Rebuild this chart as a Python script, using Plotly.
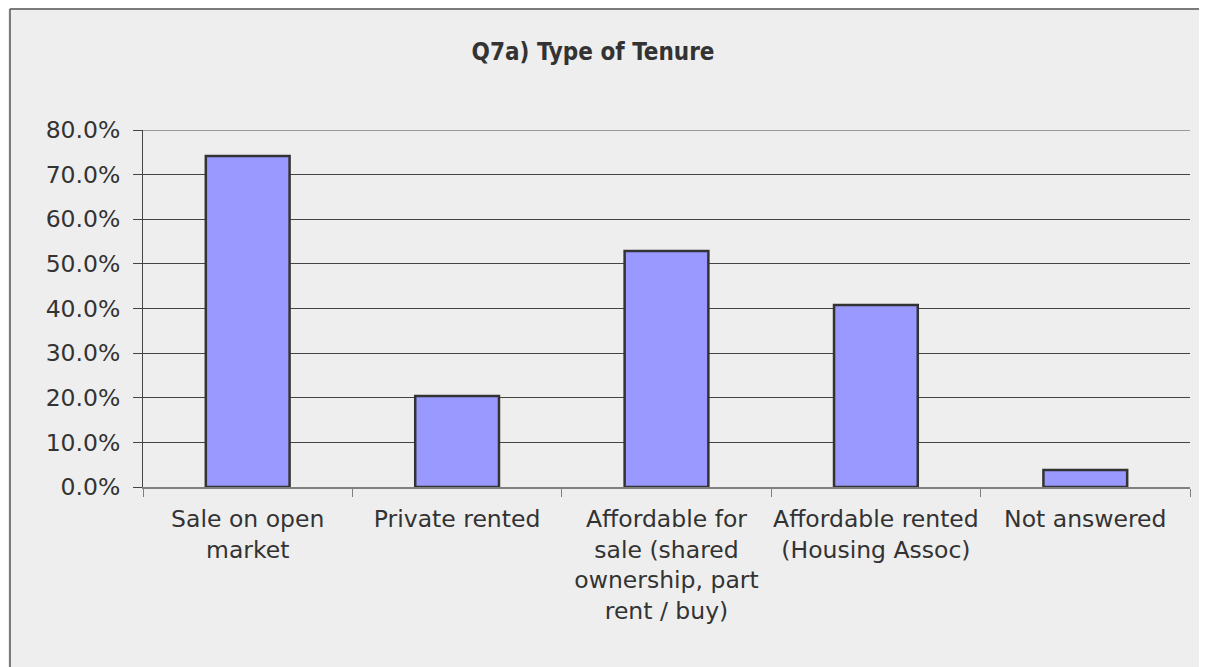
import plotly.graph_objects as go

categories = ["Sale on open<br>market", "Private rented",
              "Affordable for<br>sale (shared<br>ownership, part<br>rent / buy)",
              "Affordable rented<br>(Housing Assoc)", "Not answered"]
values = [0.742, 0.204, 0.529, 0.408, 0.038]
tick_vals = [0, 0.1, 0.2, 0.3, 0.4, 0.5, 0.6, 0.7, 0.8]
title_text = "Q7a) Type of Tenure"

FONT = "DejaVu Sans, Verdana, sans-serif"
TFONT = "DejaVu Sans Condensed, DejaVu Sans, sans-serif"
TXT = "#333333"

W, H = 1199, 659
L, T = 135, 122
R = W - 1182
B = H - 479
PW, PH = W - L - R, H - T - B

fig = go.Figure(go.Bar(
    x=categories, y=values, width=0.4,
    marker=dict(color="#9999ff", line=dict(color="#333333", width=2.5)),
))

fig.update_layout(
    width=W, height=H,
    paper_bgcolor="#eeeeee", plot_bgcolor="#eeeeee",
    margin=dict(l=L, r=R, t=T, b=B, autoexpand=False),
    showlegend=False,
    title=dict(text="<b>" + title_text + "</b>", x=585/W, xref="container", xanchor="center",
               y=1-44/H, yref="container", yanchor="middle",
               font=dict(family=TFONT, size=24, color=TXT)),
    font=dict(family=FONT, size=23.5, color=TXT),
)

fig.update_yaxes(range=[0, 0.8], tickvals=tick_vals, tickformat=".1%",
                 automargin=False, ticklabelstandoff=8,
                 showgrid=True, gridcolor="#444444", gridwidth=1,
                 showline=True, linecolor="#444444", linewidth=1,
                 ticks="outside", ticklen=9, tickcolor="#444444",
                 zeroline=False, tickfont=dict(family=FONT, size=23.5, color=TXT))
fig.update_xaxes(showline=True, linecolor="#808080", linewidth=1.5,
                 automargin=False, tickangle=0, ticklabelstandoff=10,
                 ticks="outside", tickson="boundaries", ticklen=8, tickcolor="#808080",
                 tickfont=dict(family=FONT, size=23.5, color=TXT))

# top gridline at the max of the range
fig.add_shape(type="line", xref="paper", yref="y", x0=0, x1=1,
              y0=tick_vals[-1], y1=tick_vals[-1], line=dict(color="#444444", width=1))

# outer chart border (top and left visible)
bx = (2 - L) / PW
by = 1 + (T - 1) / PH
fig.add_shape(type="line", xref="paper", yref="paper",
              x0=bx, x1=1.2, y0=by, y1=by, line=dict(color="#555555", width=1.5))
fig.add_shape(type="line", xref="paper", yref="paper",
              x0=bx, x1=bx, y0=-1, y1=by, line=dict(color="#555555", width=1.5))

fig.write_html("out.html")
